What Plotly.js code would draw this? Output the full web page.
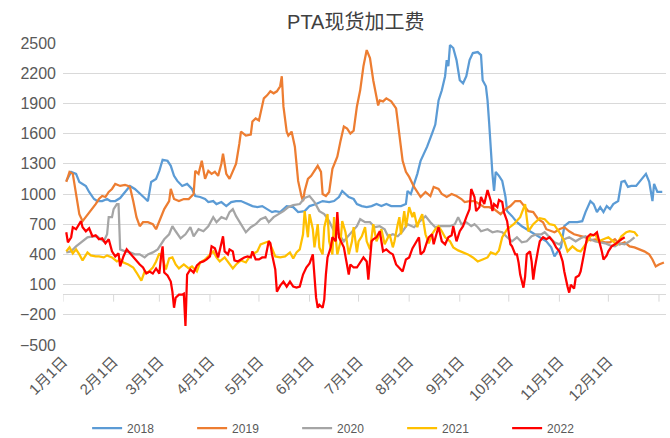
<!DOCTYPE html>
<html>
<head>
<meta charset="utf-8">
<script src="https://cdn.plot.ly/plotly-3.0.1.min.js"></script>
<style>html,body{margin:0;padding:0;background:#fff;}#chart{width:670px;height:438px;}</style>
</head>
<body>
<div id="chart"></div>
<script>
// ---- Data (x = day offset from Jan 1, y = 加工费 value) ----
const seriesNames = ['2018', '2019', '2020', '2021', '2022'];

const days2018 = [2,5,8,10,14,16,19,21,24,27,29,32,35,38,41,44,47,50,52,54,57,59,61,64,66,68,70,73,76,79,81,84,87,89,92,94,97,100,103,106,109,113,116,119,122,125,128,130,133,137,141,144,148,151,155,159,163,166,169,171,173,175,178,180,183,186,189,192,195,198,201,204,207,210,211,213,215,217,219,221,223,226,228,230,232,234,235,236,237,239,241,243,245,247,249,251,254,256,257,259,260,261,262,263,264,265,267,269,271,272,275,278,281,284,287,290,293,296,299,301,303,305,307,310,315,318,320,323,325,327,329,331,333,335,337,340,342,344,346,348,351,353,355,357,359,361,362,364,367];
const vals2018 = [1130,1220,1200,1120,1080,1020,950,930,930,950,930,930,960,1020,1080,1050,1000,960,930,1120,1150,1230,1340,1330,1280,1180,1130,1080,1100,1050,980,970,950,920,930,900,920,880,920,930,930,900,880,870,880,850,820,830,820,880,870,820,830,880,900,930,920,930,970,1030,1000,970,950,900,880,870,880,900,880,900,880,880,880,900,1030,1000,1100,1200,1330,1400,1470,1600,1690,1930,2030,2170,2330,2270,2480,2450,2330,2130,2100,2170,2330,2400,2410,2380,2130,2070,1930,1700,1430,1200,1030,1220,1180,1130,970,830,780,720,680,650,620,590,560,530,470,380,430,470,680,720,720,730,820,930,900,820,870,820,880,850,900,930,1120,1130,1070,1080,1080,1120,1170,1200,1120,930,1100,1020,1020];

const days2019 = [2,4,6,8,10,12,14,17,20,22,24,26,28,30,32,35,38,40,41,43,45,47,49,52,55,57,59,62,65,66,68,71,74,77,80,81,83,85,87,89,91,93,95,97,98,100,102,104,106,108,109,112,115,116,118,120,121,123,125,127,129,131,133,134,135,137,138,140,142,143,144,146,147,148,150,152,154,156,158,159,161,163,165,168,170,172,174,176,178,180,182,184,186,188,190,192,193,194,196,198,201,204,206,208,210,212,215,219,222,225,227,230,232,235,238,241,244,246,249,252,255,258,261,264,268,271,274,277,280,283,285,288,291,294,296,301,304,307,310,313,317,320,323,326,329,332,335,338,341,344,347,350,353,356,359,361,363,365,368];
const vals2019 = [1120,1220,1200,1000,800,730,770,830,900,950,980,970,1020,1050,1100,1080,1090,1080,1070,930,770,680,720,720,700,650,730,850,930,1050,950,930,950,950,1000,1230,1200,1330,1150,1230,1200,1220,1180,1300,1400,1200,1150,1220,1300,1500,1620,1580,1590,1720,1750,1730,1800,1950,1980,2020,2000,2020,2070,2170,1870,1620,1580,1620,1470,1330,1130,980,930,1030,1150,1180,1230,1280,1220,1000,980,1020,1250,1370,1530,1670,1650,1600,1630,1870,2030,2270,2430,2350,2130,1980,1880,1930,1920,1950,1920,1850,1570,1330,1220,1170,1070,970,1020,980,1070,1050,1000,970,1000,980,950,920,930,930,900,870,870,850,800,850,880,930,930,870,830,820,750,720,650,620,650,670,630,600,580,570,540,550,530,520,520,550,500,520,480,470,450,430,400,350,280,300,320];

const days2020 = [2,5,8,12,15,18,21,23,25,27,28,30,31,33,34,35,38,41,44,47,50,52,55,58,60,62,65,67,69,72,75,78,80,83,86,89,92,94,97,100,102,104,106,108,110,112,115,118,121,124,126,129,132,135,138,141,145,148,151,154,157,160,163,166,169,172,174,177,180,182,185,188,191,194,197,199,202,205,208,211,215,218,222,225,228,231,234,237,240,242,244,247,250,252,254,256,260,263,266,269,272,275,278,281,284,287,290,293,295,298,301,304,307,310,314,317,320,323,326,329,332,335,338,341,344,347,350];
const vals2020 = [420,430,480,530,570,580,580,550,530,600,770,770,850,900,900,450,430,420,400,400,370,400,420,450,500,550,600,680,630,560,600,670,580,650,630,680,770,720,770,750,820,850,780,730,670,620,670,700,750,770,720,770,800,830,870,890,900,960,980,920,830,800,730,630,600,530,570,630,680,750,720,720,670,680,650,580,600,580,630,700,670,720,780,720,670,680,680,680,700,770,700,720,680,700,670,630,650,620,630,620,570,530,570,520,530,580,600,600,620,570,520,500,550,570,530,560,580,550,530,520,510,490,480,510,500,530,570];

const days2021 = [2,4,6,8,10,12,15,17,20,22,25,27,30,33,35,37,40,43,45,48,50,52,55,57,59,61,63,65,67,69,71,74,77,79,82,84,87,90,92,94,96,99,101,104,106,109,112,114,116,119,121,124,126,128,130,133,136,139,141,143,145,147,148,150,151,153,154,156,157,159,160,162,163,165,166,167,168,170,171,173,174,175,177,178,180,181,183,185,186,188,189,190,192,194,195,197,198,200,202,203,205,206,207,209,210,212,214,215,217,218,220,222,224,226,228,230,232,234,237,239,242,245,248,251,254,257,260,262,265,267,269,272,276,280,283,285,288,292,295,298,301,304,307,309,312,315,317,320,323,326,328,331,334,337,339,342,345,347,350,352];
const vals2021 = [430,470,410,450,400,340,420,390,380,380,370,390,370,330,350,320,300,270,220,140,230,220,270,330,410,360,250,360,370,300,260,300,260,280,230,320,350,400,430,370,330,370,330,260,300,340,320,370,400,430,500,520,530,460,380,370,380,420,360,420,450,600,830,570,800,650,470,700,470,400,670,800,530,400,770,570,400,530,730,620,500,400,530,670,420,530,580,670,530,450,570,700,530,600,650,500,530,600,470,530,700,770,600,830,670,870,770,820,670,730,800,600,510,600,650,680,630,570,530,470,440,420,400,370,330,350,370,420,400,440,570,650,700,770,900,630,700,760,750,700,690,620,530,430,480,440,430,500,580,600,530,550,570,530,500,580,620,630,620,580];

const days2022 = [2,3,5,6,8,10,11,12,14,16,18,20,22,24,26,28,30,32,34,35,37,39,41,43,45,47,49,51,53,55,57,59,60,61,62,64,66,67,68,69,71,73,74,75,76,78,80,82,84,86,88,90,91,93,95,96,98,99,101,102,104,105,107,109,111,113,115,116,118,120,122,124,126,127,128,130,131,133,135,137,139,141,143,145,147,149,151,153,154,155,156,157,159,160,161,162,164,165,167,168,169,170,172,173,175,176,178,180,182,184,186,187,189,190,192,194,196,198,200,202,204,206,208,210,212,214,216,218,219,221,223,224,226,227,229,230,232,234,236,238,239,241,243,245,247,249,250,252,253,255,256,258,260,262,263,264,266,267,269,270,272,273,274,275,277,278,279,280,282,283,284,286,287,288,289,291,292,294,296,298,300,302,304,306,307,309,310,311,313,314,316,317,318,320,321,323,325,327,328,330,331,333,334,336,338,340,342,344];
const vals2022 = [620,520,570,670,650,710,730,670,630,660,580,590,550,560,510,550,430,380,410,280,380,450,410,380,340,300,270,210,230,210,260,210,370,480,220,190,130,30,-130,-30,0,0,10,-310,200,250,220,290,320,330,350,380,480,460,370,440,580,430,400,450,430,340,330,350,370,380,370,430,350,350,370,370,530,510,400,250,30,90,130,80,130,80,70,80,200,270,310,400,200,-30,-130,-100,-130,-50,200,370,470,570,530,820,570,530,470,380,200,300,270,270,320,370,330,150,530,550,570,630,430,450,420,400,300,270,230,350,370,460,520,570,400,430,530,570,600,500,620,670,530,500,570,590,680,530,630,680,770,850,1050,970,830,870,970,900,1040,930,830,900,870,940,920,820,730,620,500,480,400,400,320,200,70,180,400,430,330,150,270,450,530,570,550,570,530,470,430,330,230,80,20,100,60,170,190,230,320,470,570,600,590,620,560,430,350,390,430,480,500,530,550,570];

// axis labels
const monthTicks = ['2022-01-01','2022-02-01','2022-03-01','2022-04-01','2022-05-01','2022-06-01','2022-07-01','2022-08-01','2022-09-01','2022-10-01','2022-11-01','2022-12-01'];
const monthLabels = ['1月1日','2月1日','3月1日','4月1日','5月1日','6月1日','7月1日','8月1日','9月1日','10月1日','11月1日','12月1日'];
const yTickStart = -500, yTickStep = 300;

// ---- styles ----
const colors = ['#5B9BD5', '#ED7D31', '#A5A5A5', '#FFC000', '#FF0000'];
const FONT = 'Liberation Sans, Arial, "Noto Sans CJK SC", sans-serif';

function toDate(d) {
  return new Date(Date.UTC(2022, 0, 1) + d * 86400000).toISOString().slice(0, 10);
}

const allDays = [days2018, days2019, days2020, days2021, days2022];
const allVals = [vals2018, vals2019, vals2020, vals2021, vals2022];

const traces = seriesNames.map((name, i) => ({
  type: 'scatter',
  mode: 'lines',
  name: name,
  x: allDays[i].map(toDate),
  y: allVals[i],
  line: { color: colors[i], width: 2.25, shape: 'linear' },
  hoverinfo: 'skip'
}));

// tick marks crossing the zero line (category axis sits at y=0)
const tickMarkDates = monthTicks.concat(['2023-01-01']);
const shapes = tickMarkDates.map(d => ({
  type: 'line', xref: 'x', yref: 'y', layer: 'below',
  ysizemode: 'pixel', yanchor: 0,
  x0: d, x1: d, y0: 0, y1: -7,
  line: { color: '#D9D9D9', width: 1 }
}));

const layout = {
  width: 670, height: 438,
  margin: { l: 63, r: 4, t: 43, b: 93, autoexpand: false },
  paper_bgcolor: '#ffffff', plot_bgcolor: '#ffffff',
  font: { family: FONT, color: '#595959', size: 14 },
  title: {
    text: 'PTA现货加工费',
    font: { family: FONT, size: 20, color: '#404040' },
    xref: 'container', x: 0.531, xanchor: 'center',
    yref: 'container', y: 0.95, yanchor: 'middle'
  },
  xaxis: {
    type: 'date',
    range: ['2022-01-01', '2023-01-05 07:00'],
    tickmode: 'array', tickvals: monthTicks, ticktext: monthLabels,
    tickangle: -45, ticks: '',
    ticklabelstandoff: 4,
    showgrid: false, showline: false, zeroline: false,
    tickfont: { family: FONT, size: 15, color: '#595959' }
  },
  yaxis: {
    range: [-500, 2500],
    tick0: yTickStart, dtick: yTickStep,
    showgrid: true, gridcolor: '#D9D9D9', gridwidth: 1,
    zeroline: true, zerolinecolor: '#D9D9D9', zerolinewidth: 1,
    showline: false, ticks: '',
    ticklabelstandoff: 6,
    tickfont: { family: FONT, size: 16, color: '#595959' }
  },
  shapes: shapes,
  showlegend: true,
  legend: {
    orientation: 'h',
    x: 0.04, xanchor: 'left',
    y: -0.275, yanchor: 'middle',
    entrywidth: 60, entrywidthmode: 'pixels',
    font: { family: FONT, size: 12, color: '#595959' },
    bgcolor: 'rgba(0,0,0,0)'
  }
};

Plotly.newPlot('chart', traces, layout, { displayModeBar: false, staticPlot: true });
</script>
</body>
</html>
